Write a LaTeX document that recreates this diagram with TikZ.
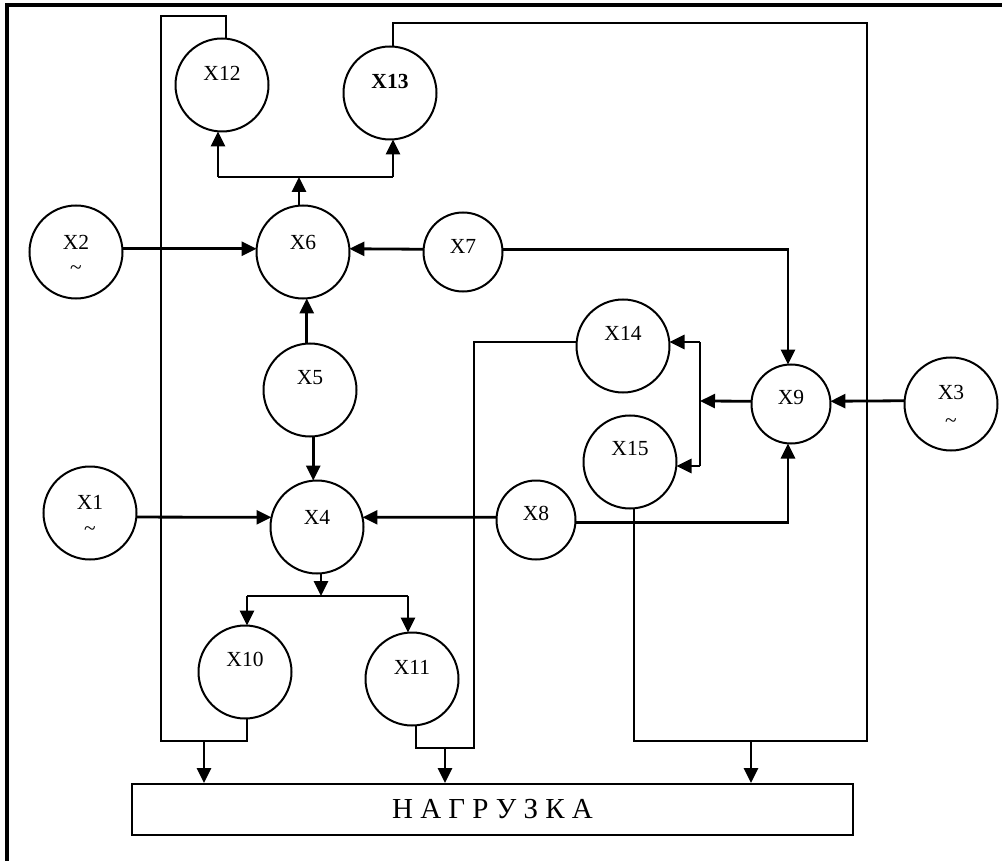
\documentclass[tikz,border=0pt]{standalone}
\usepackage{fontspec}
\setmainfont{Liberation Serif}
\usetikzlibrary{arrows.meta}
\begin{document}
\begin{tikzpicture}[x=1pt,y=-1pt,
  cnode/.style={draw,circle,line width=2pt,inner sep=0pt,outer sep=0pt},
  big/.style={cnode,minimum size=93pt},
  small/.style={cnode,minimum size=79pt},
  lbl/.style={inner sep=0pt,font=\fontsize{21.5}{21.5}\selectfont},
  tld/.style={inner sep=0pt,font=\fontsize{21.5}{21.5}\selectfont},
  conn/.style={line width=2pt},
  arr/.style={line width=2.8pt,-{Triangle[length=15pt,width=14pt]}},
  frame/.style={line width=3.2pt}]
\useasboundingbox (0,0) rectangle (1002,861);
\draw[frame] (7,861) -- (7,5) -- (1002,5);
% nodes
\node[big] (x12) at (222,85) {};
\node[lbl] (x12t) at (222,73) {X12};
\node[big] (x13) at (390,93) {};
\node[lbl] (x13t) at (390,81) {\bfseries X13};
\node[big] (x2) at (76,252) {};
\node[lbl] (x2t) at (76,242) {X2};
\node[tld] (x2s) at (76,270) {\char"7E};
\node[big] (x6) at (303,252) {};
\node[lbl] (x6t) at (303,242) {X6};
\node[small] (x7) at (463,252) {};
\node[lbl] (x7t) at (463,246) {X7};
\node[big] (x5) at (310,390) {};
\node[lbl] (x5t) at (310,378) {X5};
\node[big] (x1) at (90,513) {};
\node[lbl] (x1t) at (90,502) {X1};
\node[tld] (x1s) at (90,531) {\char"7E};
\node[big] (x4) at (317,527) {};
\node[lbl] (x4t) at (317,517) {X4};
\node[small] (x8) at (536,520) {};
\node[lbl] (x8t) at (536,513) {X8};
\node[big] (x14) at (623,346) {};
\node[lbl] (x14t) at (623,333) {X14};
\node[big] (x15) at (630,462) {};
\node[lbl] (x15t) at (630,449) {X15};
\node[small] (x9) at (791,404) {};
\node[lbl] (x9t) at (791,397) {X9};
\node[big] (x3) at (951,404) {};
\node[lbl] (x3t) at (951,392) {X3};
\node[tld] (x3s) at (951,423) {\char"7E};
\node[big] (x10) at (245,672) {};
\node[lbl] (x10t) at (245,659) {X10};
\node[big] (x11) at (412,679) {};
\node[lbl] (x11t) at (412,667) {X11};
\node[draw,line width=2pt,minimum width=721pt,minimum height=51pt,inner sep=0pt,
      font=\fontsize{29}{29}\selectfont] (load) at (492.5,809.5) {Н А Г Р У З К А};
% coordinates
\coordinate (b6) at (299,177);
\coordinate (b12) at (218,177);
\coordinate (b13) at (393,177);
\coordinate (t12) at (226,16);
\coordinate (c1) at (161,741);
\coordinate (k10) at (247,741);
\coordinate (j1) at (204,741);
\coordinate (k11) at (416,748);
\coordinate (c2) at (474,748);
\coordinate (j2) at (445,748);
\coordinate (t13) at (393,23);
\coordinate (c3) at (867,741);
\coordinate (k15) at (634,741);
\coordinate (j3) at (751,741);
\coordinate (v9) at (788,300);
\coordinate (br) at (700,401);
\coordinate (brt) at (700,342);
\coordinate (brb) at (700,466);
\coordinate (b4) at (321,596);
\coordinate (b10) at (247,596);
\coordinate (b11) at (408,596);
% top branch
\draw[arr] (b6 |- x6.north) -- (b6);
\draw[conn] (b12) -- (b13);
\draw[arr] (b12) -- (b12 |- x12.south);
\draw[arr] (b13) -- (b13 |- x13.south);
% X6 inputs
\draw[arr] (x2.4) -- (x6.176);
\draw[arr] (x7.176) -- (x6.4);
\draw[arr] (x5.94) -- (x5.94 |- x6.south);
% X4 inputs
\draw[arr] (x1.-5) -- (x4.168);
\draw[arr] (x8.176) -- (x4.12);
\draw[arr] (x5.-86) -- (x5.-86 |- x4.north);
% X4 outputs
\draw[arr] (b4 |- x4.south) -- (b4);
\draw[conn] (b10) -- (b11);
\draw[arr] (b10) -- (b10 |- x10.north);
\draw[arr] (b11) -- (b11 |- x11.north);
% X9
\draw[arr] (x7.4) -| (v9 |- x9.north);
\draw[arr] (x8.-4) -| (v9 |- x9.south);
\draw[arr] (x3.176) -- (x9.4);
\draw[arr] (x9.176) -- (br);
\draw[conn] (brt) -- (brb);
\draw[arr] (brt) -- (brt -| x14.east);
\draw[arr] (brb) -- (brb -| x15.east);
% loops to load
\draw[conn] (t12 |- x12.north) -- (t12) -| (c1) -- (k10) -- (k10 |- x10.south);
\draw[arr] (j1) -- (j1 |- load.north);
\draw[conn] (k11 |- x11.south) -- (k11) -- (c2) |- (x14.175);
\draw[arr] (j2) -- (j2 |- load.north);
\draw[conn] (t13 |- x13.north) -- (t13) -| (c3) -- (k15) -- (k15 |- x15.south);
\draw[arr] (j3) -- (j3 |- load.north);
\end{tikzpicture}
\end{document}
